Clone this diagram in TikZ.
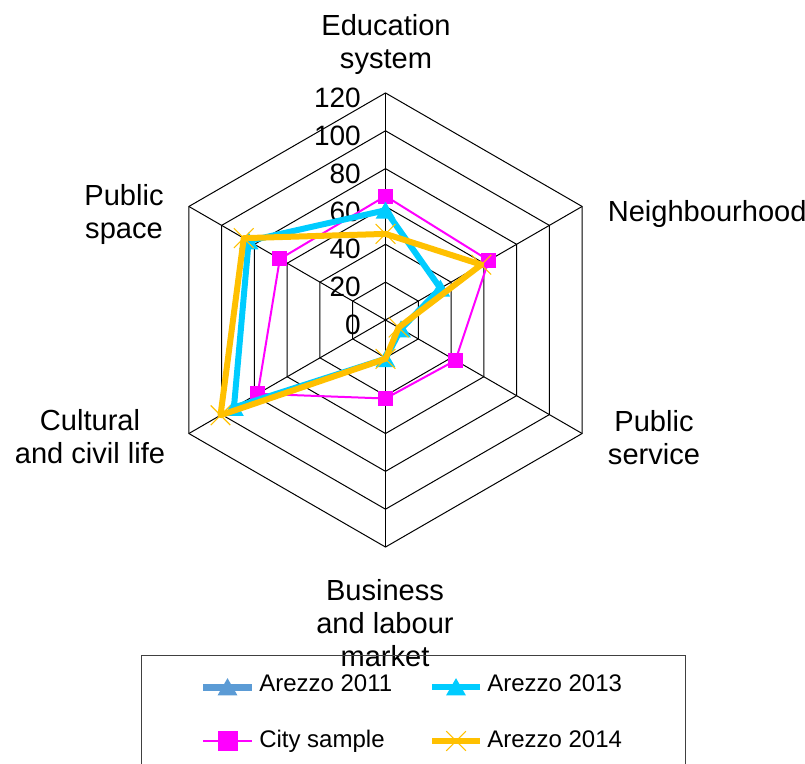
\documentclass[tikz,border=0pt]{standalone}
\usepackage{fontspec}
\setmainfont{Liberation Sans}
\usetikzlibrary{shapes.geometric,shapes.misc}

\definecolor{cityclr}{HTML}{FF00FF}
\definecolor{arzoneclr}{HTML}{5B9BD5}
\definecolor{arzthreeclr}{HTML}{00CCFF}
\definecolor{arzfourclr}{HTML}{FFC000}

\tikzset{
  gridline/.style={draw=black, line width=0.75pt},
  catlabel/.style={align=center, inner sep=0pt, font=\fontsize{21.8}{24.75}\selectfont},
  ticklabel/.style={anchor=east, inner sep=0pt, font=\fontsize{21}{24}\selectfont},
  keylabel/.style={anchor=base west, inner sep=0pt, font=\fontsize{18}{21}\selectfont},
  cityline/.style={draw=cityclr, line width=1.5pt, line join=round},
  arzoneline/.style={draw=arzoneclr, line width=5.25pt},
  arzthreeline/.style={draw=arzthreeclr, line width=4.5pt, line join=round},
  arzfourline/.style={draw=arzfourclr, line width=4.5pt, line join=round},
  citymark/.style={rectangle, fill=cityclr, minimum size=11.25pt, inner sep=0pt},
  trimark/.style={regular polygon, regular polygon sides=3, minimum size=17pt, inner sep=0pt, yshift=-2pt},
  crossmark/.style={cross out, draw=arzfourclr, line width=0.8pt, minimum size=14pt, inner sep=0pt},
}

\begin{document}
\begin{tikzpicture}[x=0.75pt, y=0.75pt]
        \useasboundingbox (0,0) rectangle (805,763);

        \begin{scope}[shift={(385.5,443)}, x=1.419pt, y=1.419pt]
        \coordinate (O) at (0,0);
        \coordinate (edu) at (90:120);
        \coordinate (nbh) at (30:120);
        \coordinate (pser) at (-30:120);
        \coordinate (bus) at (-90:120);
        \coordinate (cult) at (210:120);
        \coordinate (pspc) at (150:120);

        % grid
        \draw[gridline] (90:20) -- (30:20) -- (-30:20) -- (-90:20) -- (210:20) -- (150:20) -- cycle;
        \draw[gridline] (90:40) -- (30:40) -- (-30:40) -- (-90:40) -- (210:40) -- (150:40) -- cycle;
        \draw[gridline] (90:60) -- (30:60) -- (-30:60) -- (-90:60) -- (210:60) -- (150:60) -- cycle;
        \draw[gridline] (90:80) -- (30:80) -- (-30:80) -- (-90:80) -- (210:80) -- (150:80) -- cycle;
        \draw[gridline] (90:100) -- (30:100) -- (-30:100) -- (-90:100) -- (210:100) -- (150:100) -- cycle;
        \draw[gridline] (edu) -- (nbh) -- (pser) -- (bus) -- (cult) -- (pspc) -- cycle;
        \draw[gridline] (edu) -- (bus);
        \draw[gridline] (nbh) -- (cult);
        \draw[gridline] (pspc) -- (pser);

        \node[ticklabel] (t0) at (-12.95,-2.6) {0};
        \node[ticklabel] (t20) at (-12.95,17.4) {20};
        \node[ticklabel] (t40) at (-12.95,37.4) {40};
        \node[ticklabel] (t60) at (-12.95,57.4) {60};
        \node[ticklabel] (t80) at (-12.95,77.4) {80};
        \node[ticklabel] (t100) at (-12.95,97.4) {100};
        \node[ticklabel] (t120) at (-12.95,117.4) {120};

        % series
        \coordinate (c1) at (90:65.5);
        \coordinate (c2) at (30:63);
        \coordinate (c3) at (-30:42.7);
        \coordinate (c4) at (-90:41.5);
        \coordinate (c5) at (210:78);
        \coordinate (c6) at (150:64.5);
        \coordinate (a1) at (90:58);
        \coordinate (a2) at (30:33.5);
        \coordinate (a3) at (-30:9.5);
        \coordinate (a4) at (-90:20.5);
        \coordinate (a5) at (210:92.5);
        \coordinate (a6) at (150:83.5);
        \coordinate (b1) at (90:45.5);
        \coordinate (b2) at (30:58.5);
        \coordinate (b3) at (-30:8);
        \coordinate (b4) at (-90:20.5);
        \coordinate (b5) at (210:100.7);
        \coordinate (b6) at (150:86.5);

        \draw[cityline] (c1) node[citymark] (cm1) {} -- (c2) node[citymark] (cm2) {} -- (c3) node[citymark] (cm3) {}
            -- (c4) node[citymark] (cm4) {} -- (c5) node[citymark] (cm5) {} -- (c6) node[citymark] (cm6) {} -- cycle;
        \draw[arzthreeline] (a1) node[trimark, fill=arzthreeclr] (am1) {} -- (a2) node[trimark, fill=arzthreeclr] (am2) {}
            -- (a3) node[trimark, fill=arzthreeclr] (am3) {} -- (a4) node[trimark, fill=arzthreeclr] (am4) {}
            -- (a5) node[trimark, fill=arzthreeclr] (am5) {} -- (a6) node[trimark, fill=arzthreeclr] (am6) {} -- cycle;
        \draw[arzfourline] (b1) node[crossmark] (bm1) {} -- (b2) node[crossmark] (bm2) {} -- (b3) node[crossmark] (bm3) {}
            -- (b4) node[crossmark] (bm4) {} -- (b5) node[crossmark] (bm5) {} -- (b6) node[crossmark] (bm6) {} -- cycle;
        \end{scope}

        % category labels
        \node[catlabel] (edu-l) at (386,718.9) {Education\\system};
        \node[catlabel, anchor=west] (nbh-l) at (607.5,548.7) {Neighbourhood};
        \node[catlabel] (pser-l) at (654,325.2) {Public\\service};
        \node[catlabel] (bus-l) at (385,139.7) {Business\\and labour\\market};
        \node[catlabel] (cult-l) at (90,326.2) {Cultural\\and civil life};
        \node[catlabel] (pspc-l) at (124,548.9) {Public\\space};

        % legend
        \draw[draw=black!75, line width=0.75pt] (141,107.3) rectangle (685,-5);
        \coordinate (k1a) at (203,76);
        \coordinate (k1b) at (252,76);
        \coordinate (k2a) at (432,76);
        \coordinate (k2b) at (480,76);
        \coordinate (k3a) at (203,22);
        \coordinate (k3b) at (252,22);
        \coordinate (k4a) at (432,22);
        \coordinate (k4b) at (480,22);
        \draw[arzoneline] (k1a) -- (k1b) node[midway, trimark, fill=arzoneclr, minimum size=17.3pt] (k1m) {};
        \draw[arzthreeline] (k2a) -- (k2b) node[midway, trimark, fill=arzthreeclr, minimum size=17.3pt] (k2m) {};
        \draw[cityline] (k3a) -- (k3b) node[midway, citymark, minimum size=15pt] (k3m) {};
        \draw[arzfourline] (k4a) -- (k4b) node[midway, crossmark] (k4m) {};
        \node[keylabel] (k1t) at (259,71.1) {Arezzo 2011};
        \node[keylabel] (k2t) at (487,71.1) {Arezzo 2013};
        \node[keylabel] (k3t) at (259,15.4) {City sample};
        \node[keylabel] (k4t) at (487,15.4) {Arezzo 2014};
    \end{tikzpicture}
\end{document}
